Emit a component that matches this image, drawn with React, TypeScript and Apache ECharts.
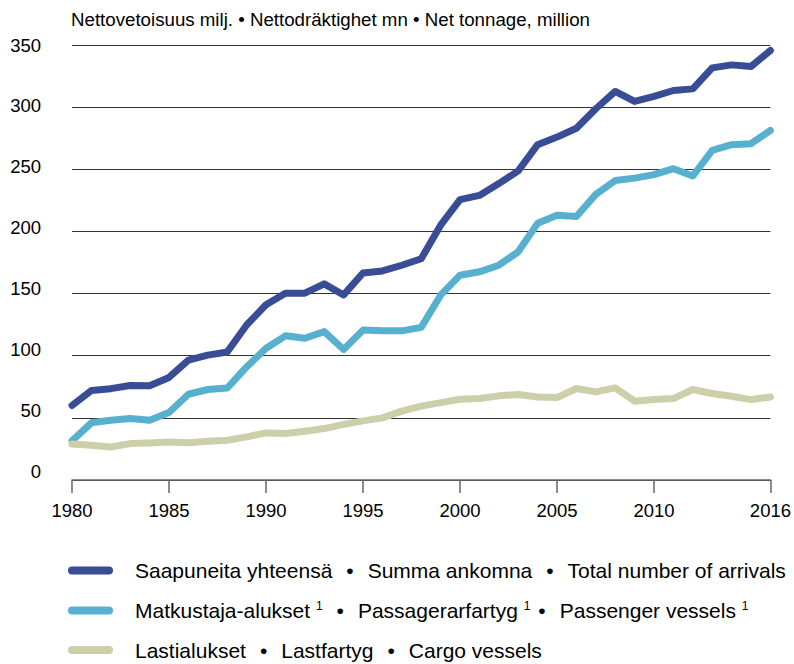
import React, { useEffect, useRef } from "react";
import * as echarts from "echarts";

const years: string[] = [];
for (let y = 1980; y <= 2016; y++) years.push(String(y));

const totalArrivals = [
  60, 72, 73.5, 76, 75.8, 82.5, 96.5, 100.5, 103, 124.7, 141, 150.3, 150.3, 157.8, 148.9,
  166.6, 168.2, 172.8, 178, 205, 225.6, 229, 238.5, 248.7, 269.8, 275.9, 283, 298.7, 312.6,
  304.6, 308.6, 313.4, 314.7, 331.6, 334, 332.7, 345.6,
];
const passengerVessels = [
  31.5, 46, 48, 49.5, 48, 54.3, 69, 72.8, 74, 91, 106, 116, 114, 119.4, 105,
  120.6, 120, 120, 122.8, 148.7, 164.8, 167.5, 172.8, 183.6, 206.5, 213, 212, 229.8, 241,
  242.9, 245.7, 250.5, 244.6, 265.3, 269.8, 270.6, 281.3,
];
const cargoVessels = [
  29, 28, 26.6, 29.3, 29.8, 30.6, 30, 31.2, 32, 34.7, 37.9, 37.4, 39.2, 41.4, 44.8,
  47.6, 50, 55.4, 59.4, 62.3, 65, 65.6, 67.7, 68.8, 66.8, 66.3, 73.6, 70.9, 74.1,
  63.4, 64.7, 65.5, 72.8, 69.6, 67.4, 64.7, 66.8,
];

const seriesNames = [
  "Saapuneita yhteensä • Summa ankomna • Total number of arrivals",
  "Matkustaja-alukset ¹ • Passagerarfartyg ¹• Passenger vessels ¹",
  "Lastialukset • Lastfartyg • Cargo vessels",
];
const colors = ["#394C96", "#57B1CE", "#CDCFAB"];
const titleText = "Nettovetoisuus milj. • Nettodräktighet mn • Net tonnage, million";

const FONT = "Liberation Sans, Arial, sans-serif";

export default function App() {
  const ref = useRef<HTMLDivElement>(null);
  useEffect(() => {
    document.body.style.margin = "0";
    if (!ref.current) return;
    const chart = echarts.init(ref.current, undefined, { renderer: "svg" });
    const showTick = (i: number, v: string) => {
      const y = Number(v);
      return (y % 5 === 0 && y !== 2015) || y === 2016;
    };
    const mk = (name: string, data: number[], color: string) => ({
      name,
      type: "line",
      data,
      xAxisIndex: 0,
      yAxisIndex: 0,
      showSymbol: false,
      symbol: "none",
      lineStyle: { width: 7, color, cap: "round", join: "round" },
      itemStyle: { color },
      emphasis: { disabled: true },
    });
    const legendFormatter = (name: string) => {
      if (name === seriesNames[1]) {
        return "{a|Matkustaja-alukset }{s|1}{b|•}{a|Passagerarfartyg }{s|1}{c|•}{a|Passenger vessels }{s|1}";
      }
      return name
        .split(" • ")
        .map((p) => "{a|" + p + "}")
        .join("{b|•}");
    };
    chart.setOption({
      animation: false,
      textStyle: { fontFamily: FONT },
      title: {
        text: titleText,
        left: 66,
        top: 5,
        textStyle: { fontSize: 18.7, fontWeight: "normal", color: "#000", fontFamily: FONT },
      },
      grid: [
        { left: 72, right: 19, top: 45, bottom: 184, containLabel: false },
        { left: 72, right: 19, top: 45, bottom: 192.5, containLabel: false },
      ],
      xAxis: [
        {
          type: "category",
          gridIndex: 0,
          data: years,
          boundaryGap: false,
          axisLine: { lineStyle: { color: "#666", width: 1.5 } },
          axisTick: { show: true, interval: showTick, length: 13, inside: false, lineStyle: { color: "#666", width: 1.5 } },
          axisLabel: { interval: showTick, color: "#000", fontSize: 18.5, margin: 21, fontFamily: FONT },
          splitLine: { show: false },
        },
        { type: "value", gridIndex: 1, min: 0, max: 1, show: false },
      ],
      yAxis: [
        {
          type: "value",
          gridIndex: 0,
          min: 0,
          max: 350,
          interval: 50,
          axisLine: { show: false },
          axisTick: { show: false },
          axisLabel: { show: false },
          splitLine: { lineStyle: { color: "#333", width: 1 } },
        },
        {
          type: "value",
          gridIndex: 1,
          min: 0,
          max: 350,
          interval: 50,
          axisLine: { show: false },
          axisTick: { show: false },
          splitLine: { show: false },
          axisLabel: { color: "#000", fontSize: 18.5, margin: 31, verticalAlign: "middle", fontFamily: FONT },
        },
      ],
      legend: {
        orient: "vertical",
        left: 68,
        top: 560,
        padding: 0,
        itemWidth: 45,
        itemHeight: 8,
        itemGap: 18.5,
        icon: "path://M4,0 H41 A4,4 0 0 1 41,8 H4 A4,4 0 0 1 4,0 Z",
        data: seriesNames,
        formatter: legendFormatter,
        selectedMode: false,
        textStyle: {
          padding: [0, 0, 0, 17],
          rich: {
            a: { fontSize: 21, color: "#000", fontFamily: FONT, lineHeight: 22 },
            b: { fontSize: 21, color: "#000", fontFamily: FONT, lineHeight: 22, padding: [0, 14, 0, 14] },
            c: { fontSize: 21, color: "#000", fontFamily: FONT, lineHeight: 22, padding: [0, 14, 0, 8] },
            s: { fontSize: 12, color: "#000", fontFamily: FONT, verticalAlign: "top", lineHeight: 22, padding: [0, 0, 8, 0] },
          },
        },
      },
      series: [
        mk(seriesNames[0], totalArrivals, colors[0]),
        mk(seriesNames[1], passengerVessels, colors[1]),
        mk(seriesNames[2], cargoVessels, colors[2]),
      ],
    });
    return () => chart.dispose();
  }, []);
  return <div ref={ref} style={{ width: 794, height: 664 }} />;
}
